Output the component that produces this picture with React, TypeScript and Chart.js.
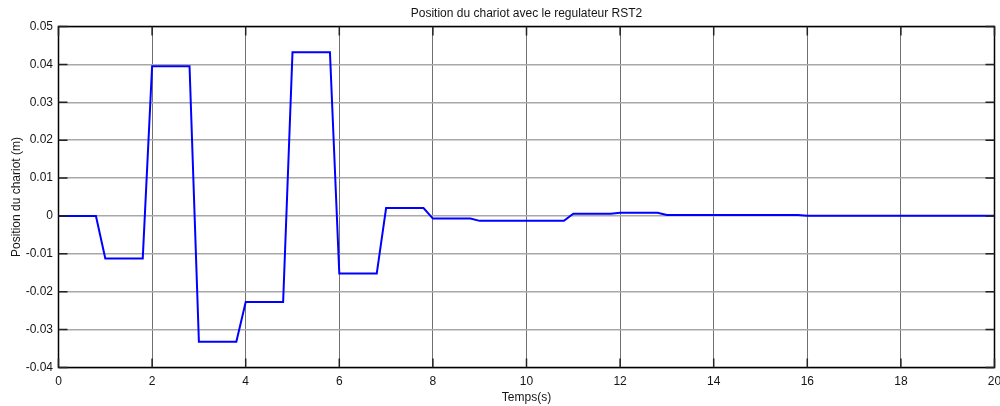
import { useEffect, useRef } from "react";
import { Chart, registerables } from "chart.js";

Chart.register(...registerables);

// Sampled cart position (held between samples, ramping over the last 0.2 s)
const timeSeconds = [
  0, 0.8, 1, 1.8, 2, 2.8, 3, 3.8, 4, 4.8, 5, 5.8, 6, 6.8, 7, 7.8, 8, 8.8, 9,
  10.8, 11, 11.8, 12, 12.8, 13, 15.8, 16, 20,
];
const positionMeters = [
  0, 0, -0.0112, -0.0112, 0.0395, 0.0395, -0.0332, -0.0332, -0.0227, -0.0227,
  0.0432, 0.0432, -0.0152, -0.0152, 0.0021, 0.0021, -0.0007, -0.0007, -0.0013,
  -0.0013, 0.0006, 0.0006, 0.00085, 0.00085, 0.00025, 0.00025, 0.00005,
  0.00005,
];

const xTickValues = [0, 2, 4, 6, 8, 10, 12, 14, 16, 18, 20];
const yTickValues = [-0.04, -0.03, -0.02, -0.01, 0, 0.01, 0.02, 0.03, 0.04, 0.05];

const chartTitle = "Position du chariot avec le regulateur RST2";
const xAxisTitle = "Temps(s)";
const yAxisTitle = "Position du chariot (m)";

const FONT = "'Liberation Sans', Arial, sans-serif";
const TEXT_COLOR = "#151515";

// Title centred over the plot area, as in a MATLAB figure
const axesTitle = {
  id: "axesTitle",
  afterDraw(chart: any) {
    const { ctx, chartArea } = chart;
    ctx.save();
    ctx.fillStyle = TEXT_COLOR;
    ctx.font = `12px ${FONT}`;
    ctx.textAlign = "center";
    ctx.textBaseline = "middle";
    ctx.fillText(chartTitle, (chartArea.left + chartArea.right) / 2, 13.5);
    ctx.restore();
  },
};

// Boxed axes with inward tick marks on all four sides
const boxFrame = {
  id: "boxFrame",
  afterDatasetsDraw(chart: any) {
    const { ctx, chartArea, scales } = chart;
    const { left, right, top, bottom } = chartArea;
    const len = 9;
    ctx.save();
    ctx.strokeStyle = "#000";
    ctx.lineWidth = 1.5;
    ctx.beginPath();
    ctx.rect(left, top, right - left, bottom - top);
    ctx.stroke();
    ctx.strokeStyle = "#222";
    ctx.lineWidth = 1.5;
    ctx.beginPath();
    for (const v of xTickValues) {
      const px = scales.x.getPixelForValue(v);
      ctx.moveTo(px, bottom);
      ctx.lineTo(px, bottom - len);
      ctx.moveTo(px, top);
      ctx.lineTo(px, top + len);
    }
    for (const v of yTickValues) {
      const py = scales.y.getPixelForValue(v);
      ctx.moveTo(left, py);
      ctx.lineTo(left + len, py);
      ctx.moveTo(right, py);
      ctx.lineTo(right - len, py);
    }
    ctx.stroke();
    ctx.restore();
  },
};

export default function App() {
  const canvasRef = useRef<HTMLCanvasElement | null>(null);

  useEffect(() => {
    document.body.style.margin = "0";
    const canvas = canvasRef.current;
    if (!canvas) return;

    const chart = new Chart(canvas, {
      type: "line",
      data: {
        datasets: [
          {
            data: timeSeconds.map((t, i) => ({ x: t, y: positionMeters[i] })),
            borderColor: "#0000ff",
            borderWidth: 2,
            pointRadius: 0,
            tension: 0,
            fill: false,
          },
        ],
      },
      options: {
        responsive: false,
        animation: false,
        events: [],
        layout: { padding: { left: 0, right: 5.5, top: 26.5, bottom: 0 } },
        plugins: {
          legend: { display: false },
          tooltip: { enabled: false },
          title: { display: false },
        },
        scales: {
          x: {
            type: "linear",
            min: 0,
            max: 20,
            afterBuildTicks: (scale: any) => {
              scale.ticks = xTickValues.map((v) => ({ value: v }));
            },
            afterFit: (scale: any) => {
              scale.height = 38.5;
              scale.paddingLeft = 0;
              scale.paddingRight = 0;
            },
            grid: { color: "#707070", lineWidth: 1, drawTicks: false },
            border: { display: false },
            ticks: {
              color: TEXT_COLOR,
              font: { family: FONT, size: 12 },
              padding: 6.5,
              maxRotation: 0,
              autoSkip: false,
              callback: (v: any) => String(v),
            },
            title: {
              display: true,
              text: xAxisTitle,
              color: TEXT_COLOR,
              font: { family: FONT, size: 12 },
              padding: { top: 0, bottom: 1 },
            },
          },
          y: {
            type: "linear",
            min: -0.04,
            max: 0.05,
            afterBuildTicks: (scale: any) => {
              scale.ticks = yTickValues.map((v) => ({ value: v }));
            },
            afterFit: (scale: any) => {
              scale.width = 58.5;
            },
            grid: { color: "#a8a8a8", lineWidth: 1.5, drawTicks: false },
            border: { display: false },
            ticks: {
              color: TEXT_COLOR,
              font: { family: FONT, size: 12 },
              padding: 5.5,
              autoSkip: false,
              callback: (v: any) => String(Number(Number(v).toFixed(2)) || 0),
            },
            title: {
              display: true,
              text: yAxisTitle,
              color: TEXT_COLOR,
              font: { family: FONT, size: 12 },
              padding: { top: 9.5, bottom: 0 },
            },
          },
        },
      },
      plugins: [boxFrame, axesTitle],
    } as any);

    return () => chart.destroy();
  }, []);

  return (
    <div style={{ position: "absolute", left: 0, top: 0, width: 1000, height: 406, background: "#fff" }}>
      <canvas ref={canvasRef} width={1000} height={406} style={{ display: "block" }} />
    </div>
  );
}
